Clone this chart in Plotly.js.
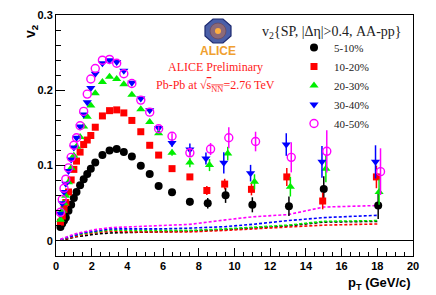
<!DOCTYPE html>
<html><head><meta charset="utf-8">
<script src="https://cdn.plot.ly/plotly-3.0.1.min.js"></script>
<style>html,body{margin:0;padding:0;background:#fff}#chart{width:436px;height:295px}</style>
</head><body><div id="chart"></div>
<script>
// ---- data ----
const centralities = ["5-10%", "10-20%", "20-30%", "30-40%", "40-50%"];
const colors = ["#000000", "#ff0000", "#00ee00", "#0000ff", "#ff00ff"];
const symbols = ["circle", "square", "triangle-up", "triangle-down", "circle-open"];

const ptLow = [0.25, 0.35, 0.45, 0.55, 0.7, 0.85, 1.0, 1.15, 1.35, 1.55, 1.75, 1.95, 2.2, 2.6, 3.0, 3.4, 3.8, 4.25, 4.75, 5.25, 5.75, 6.5, 7.5];
const ptHigh5_10 = [8.5, 9.5, 11.0, 13.05, 15.0, 18.05];
const ptHigh10_20 = [8.45, 9.45, 10.95, 12.93, 14.94, 17.95];
const ptHigh20_30 = [8.6, 9.62, 11.12, 13.13, 15.12, 18.1];
const ptHigh30_40 = [8.4, 9.4, 10.9, 12.9, 14.9, 17.9];
const ptHigh40_50 = [8.66, 9.68, 11.18, 13.18, 15.17, 18.18];

const v2_5_10 = [0.0185, 0.023, 0.027, 0.031, 0.040, 0.048, 0.057, 0.065, 0.074, 0.082, 0.089, 0.096, 0.104, 0.114, 0.120, 0.122, 0.118, 0.112, 0.100, 0.089, 0.073, 0.0645, 0.052,
                 0.050, 0.0605, 0.048, 0.046, 0.069, 0.047];
const v2_10_20 = [0.025, 0.033, 0.042, 0.051, 0.065, 0.081, 0.095, 0.106, 0.118, 0.128, 0.134, 0.140, 0.151, 0.166, 0.173, 0.174, 0.170, 0.160, 0.145, 0.127, 0.114, 0.096, 0.085,
                  0.067, 0.0755, 0.0685, 0.085, 0.053, 0.085];
const v2_20_30 = [0.028, 0.040, 0.050, 0.060, 0.078, 0.097, 0.113, 0.125, 0.138, 0.152, 0.165, 0.180, 0.196, 0.211, 0.218, 0.215, 0.208, 0.194, 0.175, 0.158, 0.143, 0.117, 0.104,
                  0.1007, 0.116, 0.0785, 0.072, 0.096, 0.065];
const v2_30_40 = [0.036, 0.050, 0.065, 0.076, 0.093, 0.108, 0.124, 0.137, 0.152, 0.168, 0.184, 0.203, 0.222, 0.236, 0.240, 0.2375, 0.226, 0.210, 0.189, 0.1735, 0.150, 0.130, 0.1215,
                  0.1095, 0.1037, 0.090, 0.128, 0.105, 0.105];
const v2_40_50 = [0.038, 0.055, 0.070, 0.082, 0.097, 0.111, 0.127, 0.137, 0.153, 0.172, 0.195, 0.215, 0.229, 0.240, 0.241, 0.236, 0.222, 0.209, 0.187, 0.171, 0.149, 0.139, 0.117,
                  0.122, 0.137, 0.132, 0.111, 0.119, 0.092];

const err_5_10 = [0,0,0,0,0,0,0,0,0,0,0,0,0,0,0,0,0,0,0,0,0.002,0.003,0.005, 0.007,0.010,0.010,0.013,0.017,0.018];
const err_10_20 = [0,0,0,0,0,0,0,0,0,0,0,0,0,0,0,0,0,0,0,0,0.002,0.003,0.004, 0.006,0.007,0.008,0.012,0.011,0.015];
const err_20_30 = [0,0,0,0,0,0,0,0,0,0,0,0,0,0,0,0,0,0,0,0,0.002,0.004,0.006, 0.008,0.009,0.010,0.013,0.018,0.017];
const err_30_40 = [0,0,0,0,0,0,0,0,0,0,0,0,0,0,0,0,0,0,0,0,0.003,0.005,0.008, 0.008,0.014,0.011,0.015,0.021,0.022];
const err_40_50 = [0,0,0,0,0,0,0,0,0,0,0,0,0,0,0,0,0,0,0,0,0.003,0.004,0.006, 0.008,0.014,0.013,0.020,0.028,0.031];

// non-flow (AA-pp) estimate curves
const nfPt = [0.25, 0.55, 1.0, 1.55, 2.2, 3.0, 4.25, 5.75, 7.5, 9.5, 11, 13, 15, 18];
const nf_5_10 = [0.001, 0.002, 0.005, 0.007, 0.009, 0.0106, 0.011, 0.012, 0.013, 0.015, 0.017, 0.020, 0.025, 0.026];
const nf_10_20 = [0.001, 0.003, 0.006, 0.009, 0.011, 0.013, 0.012, 0.012, 0.012, 0.014, 0.016, 0.018, 0.021, 0.0225];
const nf_20_30 = [0.001, 0.004, 0.007, 0.010, 0.012, 0.0145, 0.014, 0.014, 0.014, 0.016, 0.018, 0.021, 0.026, 0.027];
const nf_30_40 = [0.002, 0.004, 0.008, 0.011, 0.013, 0.016, 0.016, 0.016, 0.017, 0.019, 0.022, 0.027, 0.031, 0.034];
const nf_40_50 = [0.002, 0.005, 0.009, 0.012, 0.015, 0.0176, 0.019, 0.020, 0.022, 0.028, 0.032, 0.035, 0.045, 0.047];

const xTicks = [0, 2, 4, 6, 8, 10, 12, 14, 16, 18, 20];
const yTicks = [0, 0.1, 0.2, 0.3];

// ---- build ----
const ptHighs = [ptHigh5_10, ptHigh10_20, ptHigh20_30, ptHigh30_40, ptHigh40_50];
const v2s = [v2_5_10, v2_10_20, v2_20_30, v2_30_40, v2_40_50];
const errs = [err_5_10, err_10_20, err_20_30, err_30_40, err_40_50];
const nfs = [nf_5_10, nf_10_20, nf_20_30, nf_30_40, nf_40_50];

const traces = [];
nfs.forEach((nf, i) => {
  traces.push({
    x: nfPt, y: nf, mode: 'lines', type: 'scatter', showlegend: false, hoverinfo: 'skip',
    line: {color: colors[i], width: 1.6, dash: '3px,2px'}
  });
});
v2s.forEach((v, i) => {
  traces.push({
    x: ptLow.concat(ptHighs[i]), y: v, type: 'scatter', mode: 'markers', name: centralities[i],
    marker: {symbol: symbols[i], color: colors[i], size: i === 1 ? 7 : 8,
             line: {color: colors[i], width: i === 4 ? 1.4 : 0}},
    error_y: {type: 'data', array: errs[i], visible: true, color: colors[i], thickness: 1.5, width: 0}
  });
});

// paper coordinate helpers for the plot frame (decorations only)
const L = 56, R = 413, T = 15, B = 256;
const px = x => (x - L) / (R - L);
const py = y => (B - y) / (B - T);

const layout = {
  width: 436, height: 295,
  margin: {l: L, r: 436 - R, t: T, b: 295 - B, pad: 0},
  paper_bgcolor: '#fff', plot_bgcolor: '#fff',
  showlegend: true,
  legend: {x: px(294), y: py(33), xanchor: 'left', yanchor: 'top', bgcolor: 'rgba(0,0,0,0)',
           font: {family: 'Liberation Serif, Times New Roman, serif', size: 11, color: '#222'},
           tracegroupgap: 0},
  xaxis: {range: [0, 20], tickvals: xTicks, ticktext: xTicks.map(String), ticks: 'inside', ticklen: 8,
          tickcolor: '#000', tickwidth: 1, showline: true, linecolor: '#000', linewidth: 1, mirror: true,
          showgrid: false, zeroline: false, tickfont: {family: 'Liberation Sans, Arial, sans-serif', size: 11, color: '#000', weight: 'bold'},
          minor: {dtick: 0.5, ticks: 'inside', ticklen: 4, tickcolor: '#000', showgrid: false}},
  yaxis: {range: [-0.02, 0.3], tickvals: yTicks, ticktext: ['0', '0.1', '0.2', '0.3'], ticks: 'inside', ticklen: 9,
          tickcolor: '#000', tickwidth: 1, showline: true, linecolor: '#000', linewidth: 1, mirror: true,
          showgrid: false, zeroline: true, zerolinecolor: '#000', zerolinewidth: 1,
          tickfont: {family: 'Liberation Sans, Arial, sans-serif', size: 11, color: '#000', weight: 'bold'},
          minor: {dtick: 0.02, ticks: 'inside', ticklen: 5, tickcolor: '#000', showgrid: false}},
  annotations: [
    {text: 'v<sub>2</sub>', xref: 'paper', yref: 'paper', x: px(20), y: py(22), textangle: -90, showarrow: false,
     font: {family: 'Liberation Sans, Arial, sans-serif', size: 14, color: '#000', weight: 'bold'}},
    {text: 'p<sub>T</sub> (GeV/c)', xref: 'paper', yref: 'paper', x: 1, y: py(283), xanchor: 'right', yanchor: 'middle', showarrow: false,
     font: {family: 'Liberation Sans, Arial, sans-serif', size: 13, color: '#000', weight: 'bold'}},
    {text: 'v<sub>2</sub>{SP, |Δη|>0.4, AA-pp}', xref: 'paper', yref: 'paper', x: px(260), y: py(33), xanchor: 'left', yanchor: 'middle', showarrow: false,
     font: {family: 'Liberation Serif, Times New Roman, serif', size: 14, color: '#222'}},
    {text: 'ALICE Preliminary', xref: 'paper', yref: 'paper', x: px(215), y: py(67), xanchor: 'center', yanchor: 'middle', showarrow: false,
     font: {family: 'Liberation Serif, Times New Roman, serif', size: 12, color: '#ff1a1a'}},
    {text: 'Pb-Pb at √<span style="text-decoration:overline">s<sub>NN</sub></span>=2.76 TeV', xref: 'paper', yref: 'paper', x: px(215), y: py(86), xanchor: 'center', yanchor: 'middle', showarrow: false,
     font: {family: 'Liberation Serif, Times New Roman, serif', size: 12, color: '#ff1a1a'}},
    {text: 'ALICE', xref: 'paper', yref: 'paper', x: px(218), y: py(51), xanchor: 'center', yanchor: 'middle', showarrow: false,
     font: {family: 'Liberation Sans, Arial, sans-serif', size: 12, color: '#f0a030', weight: 'bold'}}
  ],
  shapes: [
    {type: 'path', xref: 'paper', yref: 'paper', xsizemode: 'pixel', ysizemode: 'pixel', xanchor: px(218), yanchor: py(31),
     path: 'M-5,12 L5,12 L13,5 L13,-5 L5,-12 L-5,-12 L-13,-5 L-13,5 Z', fillcolor: '#4a5fa8', line: {color: '#1d2a70', width: 1.2}},
    {type: 'circle', xref: 'paper', yref: 'paper', xsizemode: 'pixel', ysizemode: 'pixel', xanchor: px(218), yanchor: py(31),
     x0: -8, x1: 8, y0: -8, y1: 8, fillcolor: '#8c6a78', line: {color: '#6a4a60', width: 0.8}},
    {type: 'circle', xref: 'paper', yref: 'paper', xsizemode: 'pixel', ysizemode: 'pixel', xanchor: px(218), yanchor: py(31),
     x0: -3, x1: 3, y0: -3, y1: 3, fillcolor: '#ffb040', line: {width: 0}}
  ]
};

Plotly.newPlot('chart', traces, layout, {staticPlot: true, displayModeBar: false});
</script>
</body></html>
